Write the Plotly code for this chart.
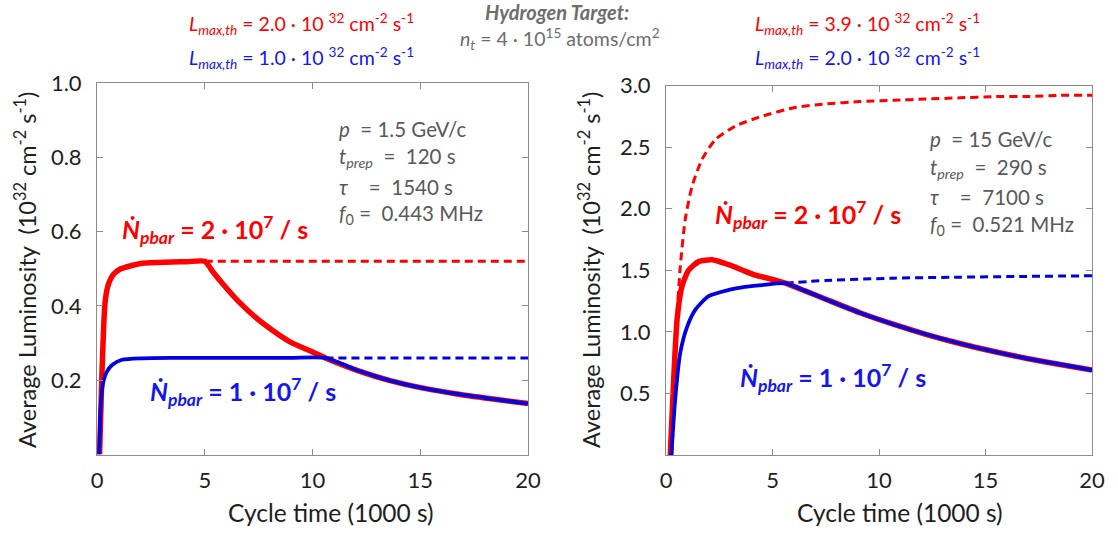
import plotly.graph_objects as go

# ---------------- data ----------------
# Left panel: p = 1.5 GeV/c   (x in 1000 s, y in 1e32 cm^-2 s^-1)
left_red_t = [0.12, 0.18, 0.23, 0.30, 0.36, 0.45, 0.54, 0.70, 0.85, 1.10, 1.32, 1.70, 2.10, 2.80, 3.50, 4.20, 5.00,
              5.40, 5.90, 6.60, 7.40, 8.20, 9.00, 10.0, 10.6, 12.1, 13.6, 15.2, 16.7, 18.3, 20.0]
left_red_y = [0.00, 0.12, 0.22, 0.33, 0.40, 0.44, 0.46, 0.48, 0.49, 0.50, 0.504, 0.51, 0.515, 0.517, 0.518, 0.519, 0.52,
              0.49, 0.455, 0.41, 0.367, 0.332, 0.302, 0.276, 0.26, 0.226, 0.199, 0.178, 0.163, 0.150, 0.137]
left_red_dash_t = [5.0, 20.0]
left_red_dash_y = [0.52, 0.52]
left_blue_t = [0.10, 0.15, 0.20, 0.31, 0.46, 0.70, 1.16, 2.10, 3.50, 5.00, 7.00, 9.00, 10.6,
               12.1, 13.6, 15.2, 16.7, 18.3, 20.0]
left_blue_y = [0.00, 0.10, 0.155, 0.20, 0.223, 0.241, 0.255, 0.259, 0.26, 0.26, 0.26, 0.26, 0.26,
               0.226, 0.199, 0.178, 0.163, 0.150, 0.137]
left_blue_dash_t = [10.6, 20.0]
left_blue_dash_y = [0.26, 0.26]

# Right panel: p = 15 GeV/c
right_red_dash_t = [0.28, 0.40, 0.52, 0.67, 0.90, 1.22, 1.69, 2.31, 3.25, 4.50, 6.00, 7.50, 9.10, 10.7,
                    12.2, 13.8, 15.4, 17.0, 18.5, 20.0]
right_red_dash_y = [0.00, 0.60, 1.15, 1.53, 1.91, 2.18, 2.40, 2.56, 2.67, 2.75, 2.82, 2.85, 2.87, 2.88,
                    2.89, 2.90, 2.91, 2.91, 2.92, 2.92]
right_red_t = [0.20, 0.36, 0.52, 0.75, 1.06, 1.53, 2.16, 2.94, 3.60, 4.19, 4.90, 5.60, 6.50, 7.50, 9.10,
               10.7, 12.2, 13.8, 15.4, 16.9, 18.5, 20.0]
right_red_y = [0.00, 0.61, 1.10, 1.37, 1.50, 1.57, 1.585, 1.545, 1.50, 1.46, 1.43, 1.395, 1.335, 1.265, 1.155,
               1.06, 0.98, 0.905, 0.84, 0.785, 0.735, 0.69]
right_blue_t = [0.25, 0.44, 0.67, 0.99, 1.38, 2.00, 2.94, 3.70, 4.50, 5.60, 6.50, 7.50, 9.10,
                10.7, 12.2, 13.8, 15.4, 16.9, 18.5, 20.0]
right_blue_y = [0.00, 0.47, 0.83, 1.04, 1.18, 1.29, 1.34, 1.365, 1.38, 1.395, 1.335, 1.265, 1.155,
                1.06, 0.98, 0.905, 0.84, 0.785, 0.735, 0.69]
right_blue_dash_t = [5.6, 7.5, 10.7, 13.8, 16.9, 20.0]
right_blue_dash_y = [1.395, 1.417, 1.436, 1.444, 1.45, 1.455]

x_ticks = [0, 5, 10, 15, 20]
left_y_ticks = [0.2, 0.4, 0.6, 0.8, 1.0]
right_y_ticks = [0.5, 1.0, 1.5, 2.0, 2.5, 3.0]

# ---------------- styling ----------------
W, H = 1118, 533
FONT = "Lato, 'Open Sans', sans-serif"
RED = "#FF0000"
BLUE = "#0000E0"
BLUE_TXT = "#1515F0"
GRAY = "#595959"
DARK = "#1e1e1e"


def px(x):
    return x / W


def py(y):
    return 1 - y / H


fig = go.Figure()


def add_line(t, y, color, width, dash, xa, ya):
    fig.add_trace(go.Scatter(x=t, y=y, mode="lines", xaxis=xa, yaxis=ya, showlegend=False,
                             hoverinfo="skip",
                             line=dict(color=color, width=width, dash=dash, shape="spline", smoothing=0.6)))


DASH = "8px,5px"
# left
add_line(left_red_dash_t, left_red_dash_y, RED, 3, DASH, "x", "y")
add_line(left_blue_dash_t, left_blue_dash_y, BLUE, 3, DASH, "x", "y")
add_line(left_red_t, left_red_y, RED, 5.5, "solid", "x", "y")
add_line(left_blue_t, left_blue_y, BLUE, 3.8, "solid", "x", "y")
# right
add_line(right_red_dash_t, right_red_dash_y, RED, 3, DASH, "x2", "y2")
add_line(right_blue_dash_t, right_blue_dash_y, BLUE, 3, DASH, "x2", "y2")
add_line(right_red_t, right_red_y, RED, 5.5, "solid", "x2", "y2")
add_line(right_blue_t, right_blue_y, BLUE, 3.8, "solid", "x2", "y2")

axis_common = dict(showline=True, linecolor="#8c8c8c", linewidth=1, mirror="ticks", ticks="inside",
                   ticklen=6, tickcolor="#8c8c8c", showgrid=False, zeroline=False, automargin=False,
                   tickfont=dict(family=FONT, size=22, color=DARK), fixedrange=True)

fig.update_layout(
    width=W, height=H, margin=dict(l=0, r=0, t=0, b=0, pad=0, autoexpand=False),
    paper_bgcolor="white", plot_bgcolor="white",
    xaxis=dict(domain=[px(97), px(528)], range=[0, 20], tickvals=x_ticks,
               ticktext=[str(v) for v in x_ticks], anchor="y", ticklabelstandoff=6, **axis_common),
    yaxis=dict(domain=[py(454.5), py(83)], range=[0, 1.0], tickvals=left_y_ticks,
               ticktext=[f"{v:.1f}" for v in left_y_ticks], anchor="x", ticklabelstandoff=10, **axis_common),
    xaxis2=dict(domain=[px(666), px(1092)], range=[0, 20], tickvals=x_ticks,
                ticktext=[str(v) for v in x_ticks], anchor="y2", ticklabelstandoff=6, **axis_common),
    yaxis2=dict(domain=[py(455), py(85.5)], range=[0, 3.0], tickvals=right_y_ticks,
                ticktext=[f"{v:.1f}" for v in right_y_ticks], anchor="x2", ticklabelstandoff=10, **axis_common),
)

ann = []


def text(x, y, s, size, color, xanchor="left", yanchor="middle", angle=0):
    ann.append(dict(x=px(x), y=py(y), xref="paper", yref="paper", text=s, showarrow=False,
                    xanchor=xanchor, yanchor=yanchor, textangle=angle,
                    font=dict(family=FONT, size=size, color=color)))


# axis titles
ytitle = "Average Luminosity\u00a0\u00a0(10<sup>32</sup> cm<sup>-2</sup> s<sup>-1</sup>)"
text(25, 270, ytitle, 23.5, DARK, xanchor="center", angle=-90)
text(589, 270, ytitle, 23.5, DARK, xanchor="center", angle=-90)
text(331, 512, "Cycle time (1000 s)", 24.5, DARK, xanchor="center")
text(900, 512, "Cycle time (1000 s)", 24.5, DARK, xanchor="center")

# header texts
lm = "<i>L<sub>max,th</sub></i> = {} \u00b7 10 <sup>32</sup> cm<sup>-2</sup> s<sup>-1</sup>"
text(187, 24, lm.format("2.0"), 19.5, RED)
text(187, 58, lm.format("1.0"), 19.5, BLUE_TXT)
text(753, 24, lm.format("3.9"), 19.5, RED)
text(753, 58, lm.format("2.0"), 19.5, BLUE_TXT)
text(557, 12, "<b><i>Hydrogen Target:</i></b>", 20, "#6d6d6d", xanchor="center")
text(560, 39, "<i>n<sub>t</sub></i> = 4 \u00b7 10<sup>15</sup> atoms/cm<sup>2</sup>", 19.5, "#6d6d6d",
     xanchor="center")

# N-dot labels
nd = "<b><i>\u1e44<sub>pbar</sub></i> = {} \u00b7 10<sup>7</sup> / s</b>"
text(120, 229, nd.format("2"), 25, RED)
text(148, 391, nd.format("1"), 25, BLUE_TXT)
text(713, 214, nd.format("2"), 25, RED)
text(738, 377, nd.format("1"), 25, BLUE_TXT)

# parameter blocks
NB = "\u00a0"
left_params = [f"<i>p</i>{NB}{NB}= 1.5 GeV/c",
               f"<i>t<sub>prep</sub></i>{NB}{NB}={NB}{NB}120 s",
               f"<i>\u03c4</i>{NB}{NB}{NB}{NB}={NB}{NB}1540 s",
               f"<i>f</i><sub>0</sub> ={NB}{NB}0.443 MHz"]
right_params = [f"<i>p</i>{NB}{NB}= 15 GeV/c",
                f"<i>t<sub>prep</sub></i>{NB}{NB}={NB}{NB}290 s",
                f"<i>\u03c4</i>{NB}{NB}{NB}{NB}={NB}{NB}7100 s",
                f"<i>f</i><sub>0</sub> ={NB}{NB}0.521 MHz"]
for s, yy in zip(left_params, [129, 158, 187, 214]):
    text(337, yy, s, 20.5, GRAY)
for s, yy in zip(right_params, [139, 168, 197, 226]):
    text(928, yy, s, 20.5, GRAY)

fig.update_layout(annotations=ann)
fig.write_html("out.html")
